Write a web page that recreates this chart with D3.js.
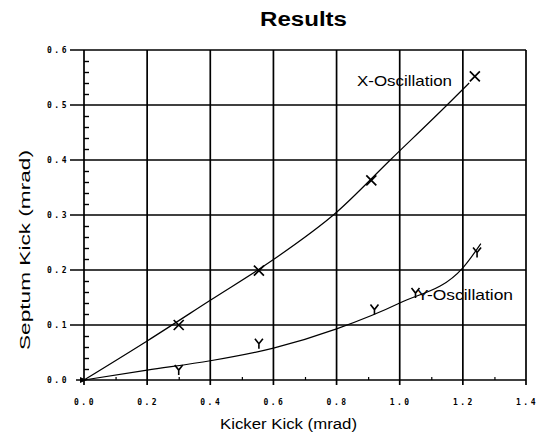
<!DOCTYPE html>
<html>
<head>
<meta charset="utf-8">
<script src="https://cdn.jsdelivr.net/npm/d3@7"></script>
<style>
  body { margin: 0; background: #fff; }
</style>
</head>
<body>
<script>
//Declare consts
    const width = 544;
    const height = 437;
    const margin = {top: 50, right: 18, bottom: 57, left: 84};

//Data - measured points
    const xOscKicker = [0.0, 0.30, 0.554, 0.91, 1.238];
    const xOscSeptum = [0.0, 0.10, 0.199, 0.363, 0.552];
    const yOscKicker = [0.0, 0.30, 0.554, 0.92, 1.05, 1.245];
    const yOscSeptum = [0.0, 0.018, 0.066, 0.128, 0.158, 0.232];

//Fitted curves
    const xFitKicker = [0.0, 0.2, 0.4, 0.6, 0.8, 0.97, 1.15, 1.22];
    const xFitSeptum = [0.0, 0.071, 0.145, 0.219, 0.305, 0.40, 0.50, 0.54];
    const yFitKicker = [0.0, 0.2, 0.4, 0.6, 0.8, 1.0, 1.2, 1.257];
    const yFitSeptum = [0.0, 0.018, 0.035, 0.058, 0.093, 0.14, 0.204, 0.248];

    const xTicks = [0.0, 0.2, 0.4, 0.6, 0.8, 1.0, 1.2, 1.4];
    const yTicks = [0.0, 0.1, 0.2, 0.3, 0.4, 0.5, 0.6];

//Scales
    const xScale = d3.scaleLinear()
                    .domain([0, 1.4])
                    .range([margin.left, width - margin.right]);

    const yScale = d3.scaleLinear()
                    .domain([0, 0.6])
                    .range([height - margin.bottom, margin.top]);

//SVG
    const svg = d3.select("body")
                .append("svg")
                .attr("width", width)
                .attr("height", height)
                .style("font-family", "'Liberation Sans', Arial, sans-serif");

//Grid (acts as the box too)
    svg.append("g")
        .selectAll("line")
        .data(xTicks)
        .enter()
        .append("line")
        .attr("x1", d => xScale(d))
        .attr("x2", d => xScale(d))
        .attr("y1", yScale(0.6))
        .attr("y2", yScale(0) + 5)
        .attr("stroke", "#000")
        .attr("stroke-width", 1.7);

    svg.append("g")
        .selectAll("line")
        .data(yTicks)
        .enter()
        .append("line")
        .attr("x1", d => xScale(0) - (d === 0 ? 8 : 14))
        .attr("x2", xScale(1.4))
        .attr("y1", d => yScale(d))
        .attr("y2", d => yScale(d))
        .attr("stroke", "#000")
        .attr("stroke-width", 1.7);

//Minor ticks on the y axis (every 0.02)
    const leftMinor = d3.axisRight(yScale)
                        .tickValues(d3.range(0, 0.601, 0.02).filter(v => Math.abs(v * 10 - Math.round(v * 10)) > 1e-6))
                        .tickSize(5)
                        .tickFormat("");
    svg.append("g")
        .attr("transform", "translate(" + xScale(0) + ",0)")
        .call(leftMinor)
        .call(g => g.select(".domain").remove())
        .selectAll("line")
        .attr("stroke-width", 1.4);

//Minor ticks on the x axis (odd tenths, pointing up)
    const bottomMinor = d3.axisTop(xScale)
                        .tickValues([0.1, 0.3, 0.5, 0.7, 0.9, 1.1, 1.3])
                        .tickSize(3)
                        .tickFormat("");
    svg.append("g")
        .attr("transform", "translate(0," + yScale(0) + ")")
        .call(bottomMinor)
        .call(g => g.select(".domain").remove())
        .selectAll("line")
        .attr("stroke-width", 1.2);

//Tick labels
    svg.append("g")
        .selectAll("text")
        .data(xTicks)
        .enter()
        .append("text")
        .attr("x", d => xScale(d) + 1)
        .attr("y", yScale(0) + 25)
        .attr("text-anchor", "middle")
        .style("font-family", "'DejaVu Sans Mono', monospace")
        .style("font-weight", "bold")
        .style("font-size", "8px")
        .style("letter-spacing", "2.5px")
        .text(d => d.toFixed(1));

    svg.append("g")
        .selectAll("text")
        .data(yTicks)
        .enter()
        .append("text")
        .attr("x", xScale(0) - 15)
        .attr("y", d => yScale(d) + 3)
        .attr("text-anchor", "end")
        .style("font-family", "'DejaVu Sans Mono', monospace")
        .style("font-weight", "bold")
        .style("font-size", "8px")
        .style("letter-spacing", "2.5px")
        .text(d => d.toFixed(1));

//Curves
    const line = d3.line()
                .x(d => xScale(d[0]))
                .y(d => yScale(d[1]))
                .curve(d3.curveMonotoneX);

    svg.append("path")
        .datum(d3.zip(xFitKicker, xFitSeptum))
        .attr("d", line)
        .attr("fill", "none")
        .attr("stroke", "#000")
        .attr("stroke-width", 1.2);

    svg.append("path")
        .datum(d3.zip(yFitKicker, yFitSeptum))
        .attr("d", line)
        .attr("fill", "none")
        .attr("stroke", "#000")
        .attr("stroke-width", 1.2);

//Markers
    svg.append("g")
        .selectAll("path")
        .data(d3.zip(xOscKicker, xOscSeptum).slice(1))
        .enter()
        .append("path")
        .attr("transform", d => "translate(" + xScale(d[0]) + "," + yScale(d[1]) + ")")
        .attr("d", "M-5,-5L5,5M-5,5L5,-5")
        .attr("stroke", "#000")
        .attr("stroke-width", 1.7);

    svg.append("g")
        .selectAll("path")
        .data(d3.zip(yOscKicker, yOscSeptum).slice(1))
        .enter()
        .append("path")
        .attr("transform", d => "translate(" + xScale(d[0]) + "," + yScale(d[1]) + ")")
        .attr("d", "M-4,-5L0,0L4,-5M0,0L0,5")
        .attr("fill", "none")
        .attr("stroke", "#000")
        .attr("stroke-width", 1.6);

    // origin mark
    svg.append("path")
        .attr("transform", "translate(" + xScale(0) + "," + yScale(0) + ")")
        .attr("d", "M-4,-3L3,0L-4,3Z")
        .attr("fill", "#000");

//Series labels
    svg.append("text")
        .attr("x", 357)
        .attr("y", yScale(0.535))
        .attr("textLength", 95)
        .attr("lengthAdjust", "spacingAndGlyphs")
        .style("font-size", "15px")
        .text("X-Oscillation");

    svg.append("text")
        .attr("x", 417)
        .attr("y", yScale(0.145))
        .attr("textLength", 96)
        .attr("lengthAdjust", "spacingAndGlyphs")
        .style("font-size", "15px")
        .text("Y-Oscillation");

//Titles
    svg.append("text")
        .attr("x", 260)
        .attr("y", 26)
        .attr("textLength", 87)
        .attr("lengthAdjust", "spacingAndGlyphs")
        .style("font-size", "20px")
        .style("font-weight", "bold")
        .text("Results");

    svg.append("text")
        .attr("x", 220)
        .attr("y", 429)
        .attr("textLength", 137)
        .attr("lengthAdjust", "spacingAndGlyphs")
        .style("font-size", "14px")
        .text("Kicker Kick (mrad)");

    svg.append("text")
        .attr("transform", "translate(30,350) rotate(-90)")
        .attr("textLength", 200)
        .attr("lengthAdjust", "spacingAndGlyphs")
        .style("font-size", "15px")
        .text("Septum Kick (mrad)");
</script>
</body>
</html>
